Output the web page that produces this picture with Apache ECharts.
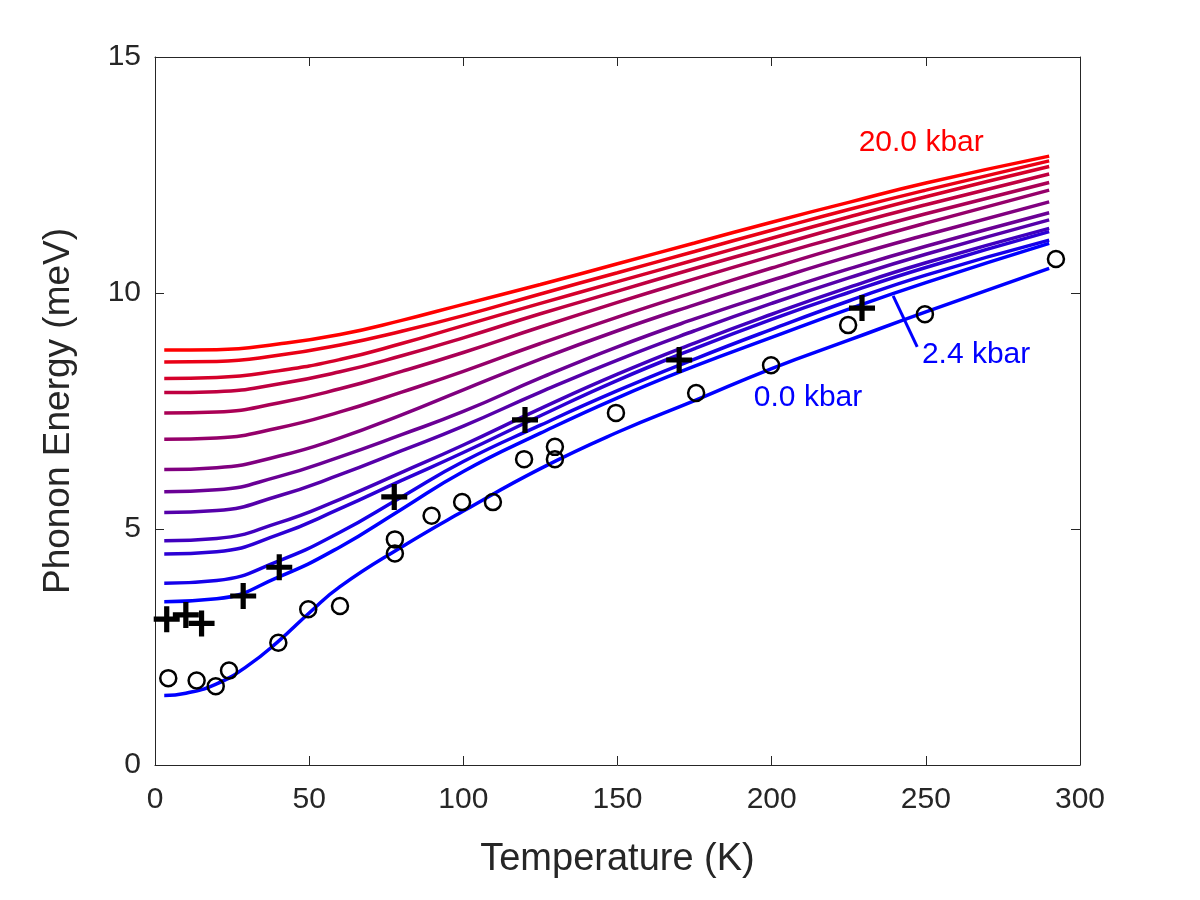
<!DOCTYPE html>
<html>
<head>
    <meta charset="UTF-8"/>
    <script src="https://cdn.jsdelivr.net/npm/echarts@6/dist/echarts.min.js"></script>
    <title>Phonon Energy</title>
    <style>
        body { margin: 0; background: #fff; }
        #main { width: 1200px; height: 900px; }
    </style>
</head>
<body>
<div id="main"></div>
<script type="text/javascript">
    // temperature grid (K) for the fitted curves
    var temps = [3, 20, 40, 60, 80, 100, 125, 150, 175, 200, 225, 250, 290];
    var tempsZero = [3, 10, 20, 30, 40, 50, 60, 80, 100, 125, 150, 175, 200, 225, 250, 290];

    // 0.0 kbar fit
    var curveZero = [1.47, 1.52, 1.72, 2.1, 2.62, 3.22, 3.78, 4.62, 5.38, 6.28, 7.05, 7.72, 8.4, 9.0, 9.6, 10.52];

    // pressure family, 2.4 kbar (blue) up to 20.0 kbar (red)
    var curve01 = [3.46, 3.52, 3.98, 4.62, 5.42, 6.22, 7.03, 7.78, 8.45, 9.06, 9.66, 10.22, 11.05];
    var curve02 = [3.85, 3.91, 4.32, 4.93, 5.68, 6.43, 7.20, 7.93, 8.60, 9.23, 9.83, 10.38, 11.12];
    var curve03 = [4.47, 4.52, 4.88, 5.43, 6.03, 6.62, 7.40, 8.15, 8.82, 9.44, 10.01, 10.54, 11.30];
    var curve04 = [4.75, 4.80, 5.13, 5.63, 6.20, 6.78, 7.55, 8.28, 8.94, 9.55, 10.12, 10.64, 11.37];
    var curve05 = [5.35, 5.39, 5.70, 6.15, 6.66, 7.18, 7.90, 8.58, 9.20, 9.78, 10.32, 10.82, 11.55];
    var curve06 = [5.79, 5.83, 6.11, 6.53, 7.00, 7.49, 8.20, 8.86, 9.45, 9.99, 10.51, 10.99, 11.70];
    var curve07 = [6.26, 6.30, 6.54, 6.93, 7.42, 7.95, 8.60, 9.20, 9.75, 10.27, 10.77, 11.23, 11.93];
    var curve08 = [6.90, 6.93, 7.14, 7.48, 7.90, 8.34, 8.93, 9.49, 10.02, 10.53, 11.02, 11.48, 12.18];
    var curve09 = [7.46, 7.48, 7.67, 7.97, 8.34, 8.74, 9.28, 9.80, 10.30, 10.78, 11.24, 11.68, 12.34];
    var curve10 = [7.89, 7.91, 8.07, 8.33, 8.67, 9.05, 9.56, 10.04, 10.52, 10.98, 11.44, 11.87, 12.52];
    var curve11 = [8.19, 8.21, 8.35, 8.59, 8.93, 9.31, 9.78, 10.24, 10.70, 11.16, 11.61, 12.04, 12.68];
    var curve12 = [8.54, 8.55, 8.68, 8.90, 9.19, 9.52, 9.98, 10.43, 10.88, 11.33, 11.77, 12.18, 12.80];
    var curve13 = [8.79, 8.80, 8.92, 9.12, 9.42, 9.76, 10.18, 10.62, 11.06, 11.50, 11.92, 12.33, 12.90];

    // measured points
    var circleT = [4.3, 13.5, 19.7, 24, 40, 49.7, 60, 77.8, 77.8, 89.7, 99.6, 109.6, 119.7, 129.7, 129.7, 149.5, 175.5, 199.8, 224.8, 249.7, 292.2];
    var circleE = [1.84, 1.79, 1.67, 2.0, 2.59, 3.30, 3.37, 4.78, 4.48, 5.28, 5.57, 5.57, 6.48, 6.74, 6.48, 7.46, 7.88, 8.47, 9.32, 9.55, 10.72];
    var plusT = [3.8, 10, 15.1, 28.6, 40.3, 77.6, 120, 170, 229.3];
    var plusE = [3.09, 3.18, 3.0, 3.58, 4.19, 5.68, 7.31, 8.58, 9.68];

    // annotation text and the pointer for 2.4 kbar
    var labelText = ['20.0 kbar', '2.4 kbar', '0.0 kbar'];
    var labelPos = [[248.5, 13.18], [266.3, 8.69], [211.8, 7.78]];
    var labelColor = ['#ff0000', '#0000ff', '#0000ff'];
    var pointerT = [239.4, 247.2];
    var pointerE = [9.94, 8.86];

    var xTicks = [0, 300, 50];
    var yTicks = [0, 15, 5];

    var family = [curve01, curve02, curve03, curve04, curve05, curve06, curve07,
        curve08, curve09, curve10, curve11, curve12, curve13];

    function pairs(xs, ys) {
        var out = [];
        for (var i = 0; i < xs.length; i++) out.push([xs[i], ys[i]]);
        return out;
    }

    var axisColor = '#262626';
    var font = '"Liberation Sans", Arial, Helvetica, sans-serif';

    var series = [];
    for (var k = 0; k < family.length; k++) {
        var f = k / (family.length - 1);
        var r = Math.round(255 * f), b = Math.round(255 * (1 - f));
        series.push({
            type: 'line',
            data: pairs(temps, family[k]),
            smooth: 0.5,
            symbol: 'none',
            lineStyle: {color: 'rgb(' + r + ',0,' + b + ')', width: 3.5},
            z: 2
        });
    }
    series.push({
        type: 'line',
        data: pairs(tempsZero, curveZero),
        smooth: 0.5,
        symbol: 'none',
        lineStyle: {color: '#0000ff', width: 3.5},
        z: 3
    });
    series.push({
        type: 'line',
        data: pairs(pointerT, pointerE),
        symbol: 'none',
        lineStyle: {color: '#0000ff', width: 3},
        z: 3
    });
    series.push({
        type: 'scatter',
        data: pairs(circleT, circleE),
        symbol: 'circle',
        symbolSize: 16,
        itemStyle: {color: 'rgba(0,0,0,0)', borderColor: '#000', borderWidth: 2.5, opacity: 1},
        z: 5
    });
    series.push({
        type: 'scatter',
        data: pairs(plusT, plusE),
        symbol: 'path://M4,0H6V4H10V6H6V10H4V6H0V4H4Z',
        symbolSize: 26,
        itemStyle: {color: '#000', opacity: 1},
        z: 6
    });
    var labelData = [];
    for (var j = 0; j < labelText.length; j++) {
        labelData.push({
            value: labelPos[j],
            label: {show: true, position: 'inside', formatter: labelText[j],
                color: labelColor[j], fontSize: 30, fontFamily: font, opacity: 1}
        });
    }
    series.push({
        type: 'scatter',
        data: labelData,
        symbolSize: 1,
        itemStyle: {color: 'rgba(0,0,0,0)', opacity: 1},
        z: 7
    });

    function xAxisDef(pos, showLabel) {
        return {
            type: 'value', position: pos, min: xTicks[0], max: xTicks[1], interval: xTicks[2],
            name: showLabel ? 'Temperature (K)' : '',
            nameLocation: 'middle', nameGap: 76,
            nameTextStyle: {fontSize: 38, color: axisColor, fontFamily: font},
            axisLine: {show: true, onZero: false, lineStyle: {color: axisColor, width: 1}},
            axisTick: {show: true, inside: true, length: 9, lineStyle: {color: axisColor}},
            axisLabel: {show: showLabel, fontSize: 30, color: axisColor, fontFamily: font, margin: 20},
            splitLine: {show: false}
        };
    }
    function yAxisDef(pos, showLabel) {
        return {
            type: 'value', position: pos, min: yTicks[0], max: yTicks[1], interval: yTicks[2],
            name: showLabel ? 'Phonon Energy (meV)' : '',
            nameLocation: 'middle', nameGap: 78,
            nameTextStyle: {fontSize: 37, color: axisColor, fontFamily: font},
            axisLine: {show: true, onZero: false, lineStyle: {color: axisColor, width: 1}},
            axisTick: {show: true, inside: true, length: 9, lineStyle: {color: axisColor}},
            axisLabel: {show: showLabel, fontSize: 30, color: axisColor, fontFamily: font, margin: 14},
            splitLine: {show: false}
        };
    }

    var option = {
        backgroundColor: '#fff',
        animation: false,
        grid: {left: 155, right: 120, top: 57, bottom: 135},
        xAxis: [xAxisDef('bottom', true), xAxisDef('top', false)],
        yAxis: [yAxisDef('left', true), yAxisDef('right', false)],
        series: series
    };

    var myChart = echarts.init(document.getElementById('main'));
    myChart.setOption(option);
</script>
</body>
</html>
